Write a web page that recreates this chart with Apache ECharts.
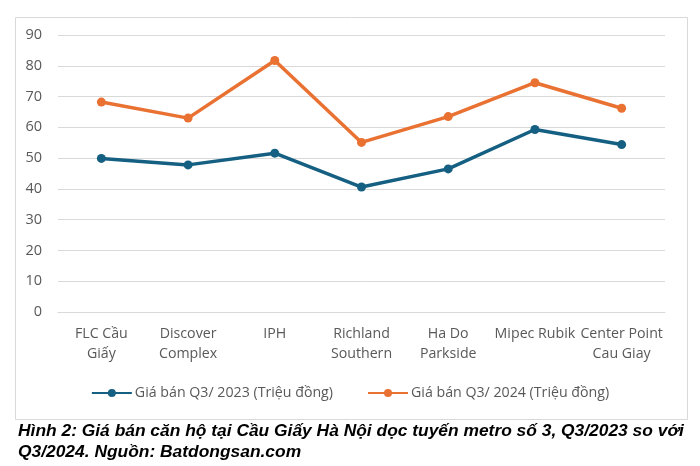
<!DOCTYPE html>
<html><head><meta charset="utf-8">
<script src="https://cdn.jsdelivr.net/npm/echarts@6/dist/echarts.min.js"></script>
<style>html,body{margin:0;padding:0;background:#fff}#c{width:700px;height:466px}</style>
</head><body><div id="c"></div>
<script>
const categories = ['FLC Cầu\nGiấy', 'Discover\nComplex', 'IPH', 'Richland\nSouthern', 'Ha Do\nParkside', 'Mipec Rubik', 'Center Point\nCau Giay'];
const price2023 = [49.9, 47.8, 51.6, 40.6, 46.5, 59.3, 54.4];
const price2024 = [68.2, 63.0, 81.7, 55.1, 63.5, 74.5, 66.2];
const seriesNames = ['Giá bán Q3/ 2023 (Triệu đồng)', 'Giá bán Q3/ 2024 (Triệu đồng)'];
const captionLines = ['Hình 2: Giá bán căn hộ tại Cầu Giấy Hà Nội dọc tuyến metro số 3, Q3/2023 so với', 'Q3/2024. Nguồn: Batdongsan.com'];

const font = 'Open Sans';
const chart = echarts.init(document.getElementById('c'));
chart.setOption({
  animation: false,
  backgroundColor: '#fff',
  graphic: [{
    type: 'rect', left: 13, top: 15,
    shape: { width: 672, height: 402 },
    style: { fill: 'none', stroke: '#d9d9d9', lineWidth: 1 }
  }],
  title: {
    text: captionLines.join('\n'),
    left: 13, top: 416,
    textStyle: { fontFamily: 'Liberation Sans', fontStyle: 'italic', fontWeight: 'bold', fontSize: 17.4, color: '#000', lineHeight: 21 }
  },
  grid: { left: 58, right: 35, top: 35, bottom: 154 },
  legend: {
    top: 381, left: 'center', itemGap: 34, itemWidth: 40, itemHeight: 10,
    textStyle: { fontFamily: font, fontSize: 14.2, color: '#595959', padding: [0, 0, 0, -2] },
    data: seriesNames
  },
  xAxis: {
    type: 'category', data: categories, boundaryGap: true,
    axisLine: { lineStyle: { color: '#d9d9d9', width: 1 } },
    axisTick: { show: false },
    axisLabel: { color: '#595959', fontFamily: font, fontSize: 14.2, lineHeight: 20, margin: 12, interval: 0 }
  },
  yAxis: {
    type: 'value', min: 0, max: 90, interval: 10,
    axisLine: { show: false }, axisTick: { show: false },
    splitLine: { lineStyle: { color: '#d9d9d9', width: 1 } },
    axisLabel: { color: '#595959', fontFamily: font, fontSize: 14.5, margin: 16 }
  },
  series: [
    { name: seriesNames[0], type: 'line', data: price2023, color: '#156082', symbol: 'circle', symbolSize: 9, lineStyle: { width: 3.5 } },
    { name: seriesNames[1], type: 'line', data: price2024, color: '#E97132', symbol: 'circle', symbolSize: 9, lineStyle: { width: 3.5 } }
  ]
});
</script></body></html>
